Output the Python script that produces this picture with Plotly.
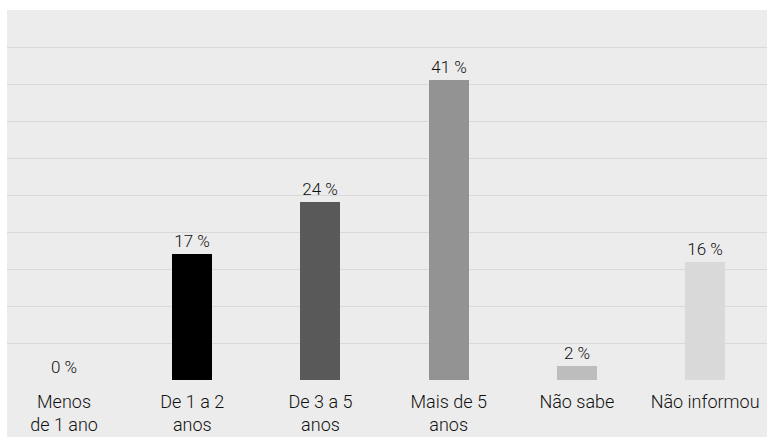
import plotly.graph_objects as go

categories = ["Menos<br>de 1 ano", "De 1 a 2<br>anos", "De 3 a 5<br>anos", "Mais de 5<br>anos", "Não sabe", "Não informou"]
values = [0.0, 17.0, 24.1, 40.6, 1.9, 15.9]
colors = ["#ececec", "#000000", "#595959", "#939393", "#bdbdbd", "#d9d9d9"]
grid_ticks = [0, 5, 10, 15, 20, 25, 30, 35, 40, 45]

fig = go.Figure()
fig.add_trace(go.Bar(
    x=list(range(len(categories))),
    y=values,
    marker=dict(color=colors, line=dict(width=0)),
    width=0.312,
    text=[f"{v:.0f} %" for v in values],
    textposition="outside",
    cliponaxis=False,
    textfont=dict(family="Roboto", size=17, color="#111111", weight=300),
    hoverinfo="skip",
))

fig.update_layout(
    width=768, height=438,
    margin=dict(l=7, r=1, t=10, b=58),
    paper_bgcolor="white",
    plot_bgcolor="#ececec",
    showlegend=False,
    bargap=0,
    font=dict(family="Roboto", size=18, color="#111111", weight=300),
    shapes=[dict(type="rect", xref="paper", yref="paper", x0=0, x1=1,
                 y0=-57/370, y1=0, fillcolor="#ececec", line=dict(width=0), layer="below")],
)
fig.update_xaxes(
    range=[-0.445, 5.483],
    tickmode="array",
    tickvals=list(range(len(categories))),
    ticktext=categories,
    showgrid=False, zeroline=False, showline=False,
    ticks="", ticklabelstandoff=9,
    tickfont=dict(family="Roboto", size=18, color="#111111", weight=300),
)
fig.update_yaxes(
    range=[0, 50],
    tickmode="array", tickvals=grid_ticks,
    showticklabels=False,
    showgrid=True, gridcolor="#d9d9d9", gridwidth=1,
    zeroline=False, showline=False,
)

fig.write_html("out.html")
